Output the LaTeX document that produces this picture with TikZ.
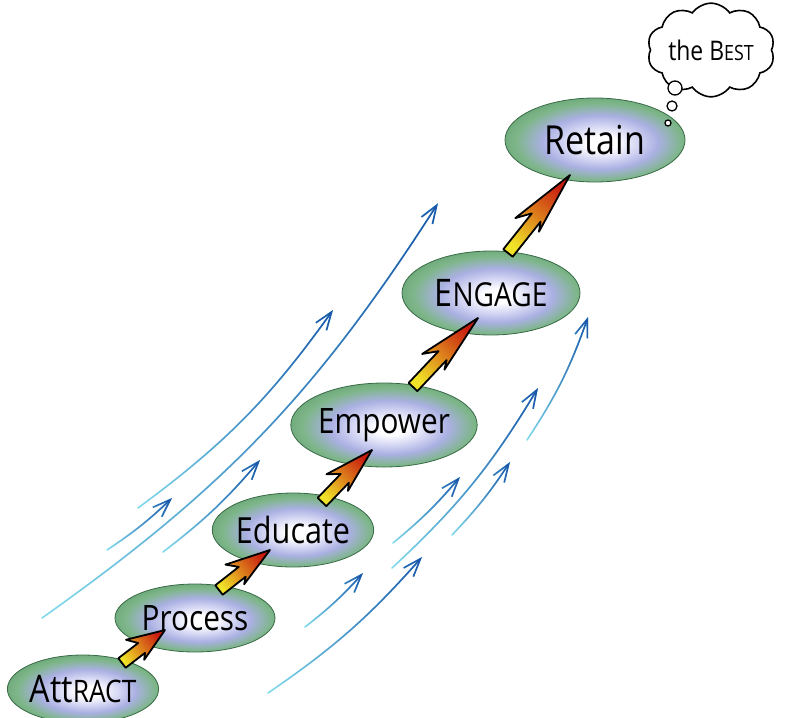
\documentclass[tikz,border=0pt]{standalone}
\usepackage{fontspec}
\setmainfont{Open Sans}
\usepackage{graphicx}
\usetikzlibrary{shapes.geometric,shapes.symbols,calc,arrows.meta,fadings}

\definecolor{lav}{RGB}{170,176,226}
\definecolor{lavlight}{RGB}{214,216,244}
\definecolor{grmid}{RGB}{126,182,138}
\definecolor{gredge}{RGB}{98,160,110}
\definecolor{ovalborder}{RGB}{56,106,70}
\definecolor{streaktail}{RGB}{130,220,236}
\definecolor{streakhead}{RGB}{28,86,170}
\definecolor{arryellow}{RGB}{240,226,40}
\definecolor{arrorange}{RGB}{232,120,30}
\definecolor{arrred}{RGB}{200,28,16}

\pgfdeclareradialshading{ovalshade}{\pgfpoint{2bp}{-2bp}}{color(0bp)=(white); color(4bp)=(white); color(10bp)=(lavlight); color(16bp)=(lav); color(23bp)=(grmid); color(30bp)=(gredge); color(50bp)=(gredge)}

\newcommand\hw[2][34]{\scalebox{0.85}[1]{\fontsize{#1}{#1}\selectfont #2}}
\newcommand\smc[2][28]{{\fontsize{#1}{#1}\selectfont #2}}

\newcommand\streak[3]{%
  \draw[streakbase] (#1) to[bend right=#3] (#2);
  \draw[streaktop] (#1) to[bend right=#3] (#2);
}

\newcommand\fat[2]{%
  \path let \p1=($(#2)-(#1)$) in \pgfextra{\pgfmathsetmacro\tmpang{atan2(\y1,\x1)-90}\xdef\fatang{\tmpang}};
  \draw[fatarrow, shading angle=\fatang]
    ($(#1)!6pt!-90:(#2)$) -- ($(#1)!0.45!(#2)!6pt!-90:(#2)$) --
    ($(#1)!0.36!(#2)!11pt!-90:(#2)$) -- (#2) --
    ($(#1)!0.32!(#2)!16pt!90:(#2)$) -- ($(#1)!0.46!(#2)!6pt!90:(#2)$) --
    ($(#1)!6pt!90:(#2)$) -- cycle;
}

\tikzset{
  oval/.style={ellipse, draw=ovalborder, line width=0.8pt, shade, shading=ovalshade, inner sep=0pt},
  streakbase/.style={line width=1.6pt, draw=streaktail, line cap=round,
    -{Straight Barb[length=18pt,width=13pt]}},
  streaktop/.style={line width=1.6pt, draw=streakhead, line cap=round, path fading=west,
    -{Straight Barb[length=18pt,width=13pt]}},
  fatarrow/.style={draw=black, line width=1.8pt, line join=round,
    bottom color=arryellow, middle color=arrorange, top color=arrred},
  bubble/.style={circle, draw, line width=1.3pt, fill=white, inner sep=0pt},
}

\begin{document}
\begin{tikzpicture}[x=1pt,y=-1pt]
\useasboundingbox (0,0) rectangle (786,717);

% blue streaks, left group
\streak{42,618}{438,203}{11}
\streak{138,508}{333,310}{9}
\streak{107,550}{172,498}{5}
\streak{163,552}{260,460}{6}
% blue streaks, right group
\streak{527,440}{588,317}{7}
\streak{392,568}{538,388}{8}
\streak{452,535}{510,462}{5}
\streak{393,543}{460,477}{5}
\streak{305,627}{363,573}{5}
\streak{268,693}{422,557}{7}

% ellipses
\node[oval, minimum width=146pt, minimum height=68pt] (attract) at (83,689) {\hw[38]{Att\smc[31]{RACT}}};
\node[oval, minimum width=160pt, minimum height=68pt] (process) at (195,618) {\hw[35]{Process}};
\node[oval, minimum width=160pt, minimum height=74pt] (educate) at (293,530) {\hw[36]{Educate}};
\node[oval, minimum width=178pt, minimum height=84pt] (empower) at (384,425) {\hw[35]{Empower}};
\node[oval, minimum width=178pt, minimum height=84pt] (engage) at (491,293) {\hw[38]{E\smc[33]{NGAGE}}};
\node[oval, minimum width=180pt, minimum height=84pt] (retain) at (595,140) {\hw[40]{Retain}};

% thought cloud
\node[cloud, draw, line width=1.6pt, fill=white, cloud puffs=10, cloud puff arc=110,
  aspect=1.55, minimum width=122pt, minimum height=78pt, inner sep=0pt] (best) at (711,50)
  {\hw[27]{the B\smc[21]{EST}}};
\node[bubble, minimum size=14pt] (bub1) at (675,88) {};
\node[bubble, minimum size=10pt] (bub2) at (672,106) {};
\node[bubble, minimum size=6pt] (bub3) at (668,123) {};

% fat arrows between stages
\coordinate (t1) at ($(attract.center)+(39,-26)$);
\coordinate (h1) at ($(process.center)+(-30,12)$);
\coordinate (t2) at ($(process.center)+(24,-28)$);
\coordinate (h2) at ($(educate.center)+(-23,20)$);
\coordinate (t3) at ($(educate.center)+(29,-28)$);
\coordinate (h3) at ($(empower.center)+(-12,25)$);
\coordinate (t4) at ($(empower.center)+(29,-38)$);
\coordinate (h4) at ($(engage.center)+(-13,25)$);
\coordinate (t5) at ($(engage.center)+(17,-40)$);
\coordinate (h5) at ($(retain.center)+(-25,35)$);
\fat{t1}{h1}
\fat{t2}{h2}
\fat{t3}{h3}
\fat{t4}{h4}
\fat{t5}{h5}
\end{tikzpicture}
\end{document}
